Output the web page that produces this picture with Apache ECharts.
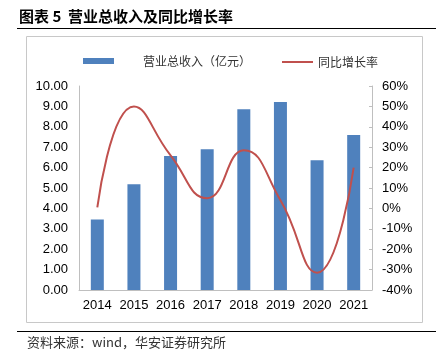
<!DOCTYPE html>
<html><head><meta charset="utf-8">
<script src="https://cdn.jsdelivr.net/npm/echarts@6/dist/echarts.min.js"></script>
<style>html,body{margin:0;padding:0;background:#fff}#c{width:436px;height:360px}</style>
</head><body><div id="c"></div>
<script>
const categories = ['2014','2015','2016','2017','2018','2019','2020','2021'];
const revenue = [3.46, 5.18, 6.57, 6.90, 8.86, 9.22, 6.36, 7.60];
const growth = [0.5, 50, 26, 5, 28.5, 4, -31.5, 20];
const leftTicks = {min: 0, max: 10, interval: 1};
const rightTicks = {min: -40, max: 60, interval: 10};
const titleText = '图表 5  营业总收入及同比增长率';
const sourceText = '资料来源：wind，华安证券研究所';
const barName = '营业总收入（亿元）';
const lineName = '同比增长率';

const chart = echarts.init(document.getElementById('c'), null, {renderer: 'canvas'});
const font = '"Liberation Sans", Arial, sans-serif';
const cjk = '"Noto Sans CJK SC", sans-serif';
chart.setOption({
  animation: false,
  textStyle: {fontFamily: font},
  graphic: [
    {type: 'text', left: 19, top: 9, style: {text: titleText, font: 'bold 15px ' + cjk, fill: '#000'}},
    {type: 'line', shape: {x1: 17, y1: 28.5, x2: 436, y2: 28.5}, style: {stroke: '#000', lineWidth: 1}},
    {type: 'rect', shape: {x: 26.5, y: 36.5, width: 396, height: 286}, style: {fill: 'none', stroke: '#c8c8c8', lineWidth: 1}},
    {type: 'line', shape: {x1: 17, y1: 331.5, x2: 436, y2: 331.5}, style: {stroke: '#000', lineWidth: 1}},
    {type: 'text', left: 27, top: 336, style: {text: sourceText, font: '13px ' + cjk, fill: '#333'}}
  ],
  legend: [
    {data: [barName], left: 78, top: 50, itemWidth: 31, itemHeight: 6, icon: 'rect',
     textStyle: {fontFamily: cjk, fontSize: 12, color: '#333', padding: [0, 0, 0, 24]}},
    {data: [{name: lineName, icon: 'rect'}], left: 277, top: 51, itemWidth: 31, itemHeight: 2,
     textStyle: {fontFamily: cjk, fontSize: 12, color: '#333', padding: [0, 0, 0, 0]}}
  ],
  grid: {left: 79, right: 64, top: 86, bottom: 70},
  xAxis: {
    type: 'category', data: categories,
    axisLine: {lineStyle: {color: '#bfbfbf', width: 1}},
    axisTick: {show: false},
    axisLabel: {color: '#000', fontSize: 13, margin: 9, fontFamily: font, interval: 0}
  },
  yAxis: [
    {type: 'value', min: leftTicks.min, max: leftTicks.max, interval: leftTicks.interval,
     axisLine: {show: true, lineStyle: {color: '#bfbfbf'}}, axisTick: {show: false},
     splitLine: {show: false},
     axisLabel: {color: '#000', fontSize: 13, margin: 11, fontFamily: font, formatter: v => v.toFixed(2)}},
    {type: 'value', min: rightTicks.min, max: rightTicks.max, interval: rightTicks.interval,
     axisLine: {show: true, lineStyle: {color: '#bfbfbf'}},
     axisTick: {show: true, inside: true, length: 3, lineStyle: {color: '#bfbfbf'}},
     splitLine: {show: false},
     axisLabel: {color: '#000', fontSize: 13, margin: 10, fontFamily: font, formatter: v => v + '%'}}
  ],
  series: [
    {name: barName, type: 'bar', data: revenue, barWidth: 13, yAxisIndex: 0,
     itemStyle: {color: '#4F81BD'}},
    {name: lineName, type: 'line', data: growth, yAxisIndex: 1, smooth: 0.5,
     symbol: 'none', lineStyle: {color: '#C0504D', width: 2}, itemStyle: {color: '#C0504D'}}
  ]
});
</script></body></html>
